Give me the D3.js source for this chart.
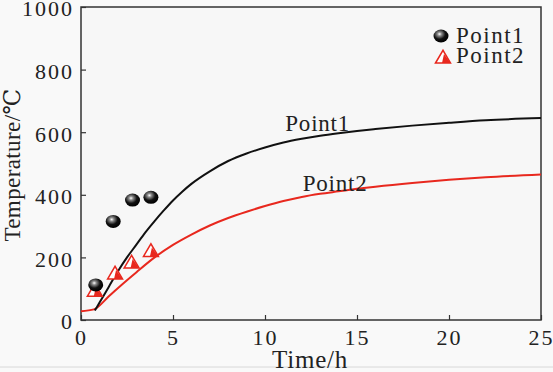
<!DOCTYPE html>
<html>
<head>
<meta charset="utf-8">
<script src="https://cdn.jsdelivr.net/npm/d3@7"></script>
<style>
    body { margin: 0; background: #f9f9f9; }
    svg text { font-family: "Liberation Serif", "DejaVu Serif", serif; fill: #222; }
</style>
</head>
<body>
<div id="chart"></div>
<script>
// measured points
var point1Time = [0.8, 1.75, 2.8, 3.8];
var point1Temp = [112, 315, 383, 392];
var point2Time = [0.75, 1.85, 2.75, 3.8];
var point2Temp = [95, 150, 185, 222];

// simulated curves
var curve1Time = [0.75, 1, 1.5, 2, 2.5, 3, 3.5, 4, 4.5, 5, 5.5, 6, 7, 8, 9, 10, 11, 12, 13, 14, 15, 16, 18, 20, 22, 25];
var curve1Temp = [30, 55, 105, 155, 200, 240, 280, 316, 350, 382, 410, 435, 475, 508, 532, 551, 567, 579, 589, 597, 604, 610, 621, 630, 638, 645];
var curve2Time = [0, 0.7, 1.5, 2.2, 3, 4, 5, 6, 7, 8, 9, 10, 11, 12, 13, 14, 15, 16, 18, 20, 22, 25];
var curve2Temp = [28, 34, 75, 112, 152, 200, 240, 273, 302, 326, 346, 364, 380, 393, 403, 411, 419, 426, 438, 448, 456, 465];

var xTicks = [0, 5, 10, 15, 20, 25];
var yTicks = [0, 200, 400, 600, 800, 1000];

var margin = { left: 81, right: 12, top: 7, bottom: 52 };
var W = 553, H = 372;
var width = W - margin.left - margin.right;
var height = H - margin.top - margin.bottom;
var serif = "'Liberation Serif', 'DejaVu Serif', serif";

var svg = d3.select("#chart").append("svg")
    .attr("width", W)
    .attr("height", H)
    .style("font-family", serif);

var defs = svg.append("defs");
var grad = defs.append("radialGradient")
    .attr("id", "ball")
    .attr("cx", "40%").attr("cy", "35%").attr("r", "65%");
grad.append("stop").attr("offset", "0%").attr("stop-color", "#ffffff");
grad.append("stop").attr("offset", "22%").attr("stop-color", "#8a8a8a");
grad.append("stop").attr("offset", "60%").attr("stop-color", "#111");
grad.append("stop").attr("offset", "100%").attr("stop-color", "#000");

var g = svg.append("g")
    .attr("transform", "translate(" + margin.left + "," + margin.top + ")");

var x = d3.scaleLinear().domain([0, 25]).range([0, width]);
var y = d3.scaleLinear().domain([0, 1000]).range([height, 0]);

g.append("rect")
    .attr("width", width)
    .attr("height", height)
    .attr("fill", "#f7f7f7");

// faint line at the bottom of the picture
svg.append("line")
    .attr("x1", 0).attr("x2", W)
    .attr("y1", 367).attr("y2", 367)
    .attr("stroke", "#d8d8d8");

var xAxis = g.append("g")
    .attr("transform", "translate(0," + height + ")")
    .call(d3.axisBottom(x).tickValues(xTicks).tickFormat(d3.format("d")).tickSize(-5).tickPadding(10));
var yAxis = g.append("g")
    .call(d3.axisLeft(y).tickValues(yTicks).tickFormat(d3.format("d")).tickSize(-5).tickPadding(7));

[xAxis, yAxis].forEach(function (a) {
    a.attr("font-family", null).attr("font-size", null);
    a.select(".domain").remove();
    a.selectAll(".tick line").attr("stroke", "#333").attr("stroke-width", 1.2);
    a.selectAll(".tick text")
        .attr("font-size", "22px")
        .attr("letter-spacing", "2px")
        .attr("fill", "#222");
});
xAxis.selectAll(".tick text").attr("dy", "0.7em");
yAxis.selectAll(".tick text").attr("dy", "0.4em");

g.append("rect")
    .attr("width", width)
    .attr("height", height)
    .attr("fill", "none")
    .attr("stroke", "#333")
    .attr("stroke-width", 1.5);

var line = d3.line()
    .x(function (d) { return x(d[0]); })
    .y(function (d) { return y(d[1]); })
    .curve(d3.curveMonotoneX);

g.append("path")
    .datum(curve2Time.map(function (t, i) { return [t, curve2Temp[i]]; }))
    .attr("fill", "none")
    .attr("stroke", "#e8281e")
    .attr("stroke-width", 2)
    .attr("d", line);

g.append("path")
    .datum(curve1Time.map(function (t, i) { return [t, curve1Temp[i]]; }))
    .attr("fill", "none")
    .attr("stroke", "#111")
    .attr("stroke-width", 2)
    .attr("d", line);

function drawTriangle(sel, cx, cy) {
    var s = 7.5;
    sel.append("path")
        .attr("d", "M" + (cx - s) + "," + (cy + s * 0.8) + "L" + cx + "," + (cy - s * 0.9) +
            "L" + (cx + s) + "," + (cy + s * 0.8) + "Z")
        .attr("fill", "#fff")
        .attr("stroke", "#e8281e")
        .attr("stroke-width", 1.5);
    sel.append("path")
        .attr("d", "M" + (cx - 1) + "," + (cy + s * 0.8) + "L" + (cx + 1) + "," + (cy - s * 0.4) +
            "L" + (cx + s) + "," + (cy + s * 0.8) + "Z")
        .attr("fill", "#e8281e");
}

function drawBall(sel, cx, cy) {
    sel.append("ellipse")
        .attr("cx", cx).attr("cy", cy)
        .attr("rx", 7.5).attr("ry", 6.5)
        .attr("fill", "url(#ball)");
}

point2Time.forEach(function (t, i) {
    drawTriangle(g, x(t), y(point2Temp[i]));
});
point1Time.forEach(function (t, i) {
    drawBall(g, x(t), y(point1Temp[i]));
});

// curve labels
g.append("text")
    .attr("x", x(11.1)).attr("y", y(603))
    .attr("font-size", "23px")
    .attr("letter-spacing", "0.8px")
    .text("Point1");
g.append("text")
    .attr("x", x(12.05)).attr("y", y(412))
    .attr("font-size", "23px")
    .attr("letter-spacing", "0.8px")
    .text("Point2");

// legend
var legend = svg.append("g")
    .attr("class", "legend");
drawBall(legend, 441, 36);
drawTriangle(legend, 443, 57);
legend.append("text")
    .attr("x", 456).attr("y", 43)
    .attr("font-size", "23px")
    .attr("letter-spacing", "1.5px")
    .text("Point1");
legend.append("text")
    .attr("x", 456).attr("y", 63)
    .attr("font-size", "23px")
    .attr("letter-spacing", "1.5px")
    .text("Point2");

// axis titles
svg.append("text")
    .attr("x", margin.left + x(12.45))
    .attr("y", 368)
    .attr("text-anchor", "middle")
    .attr("font-size", "25px")
    .attr("letter-spacing", "0.8px")
    .text("Time/h");
svg.append("text")
    .attr("transform", "translate(20,165) rotate(-90)")
    .attr("text-anchor", "middle")
    .attr("font-size", "23px")
    .attr("letter-spacing", "0.4px")
    .text("Temperature/℃");
</script>
</body>
</html>
